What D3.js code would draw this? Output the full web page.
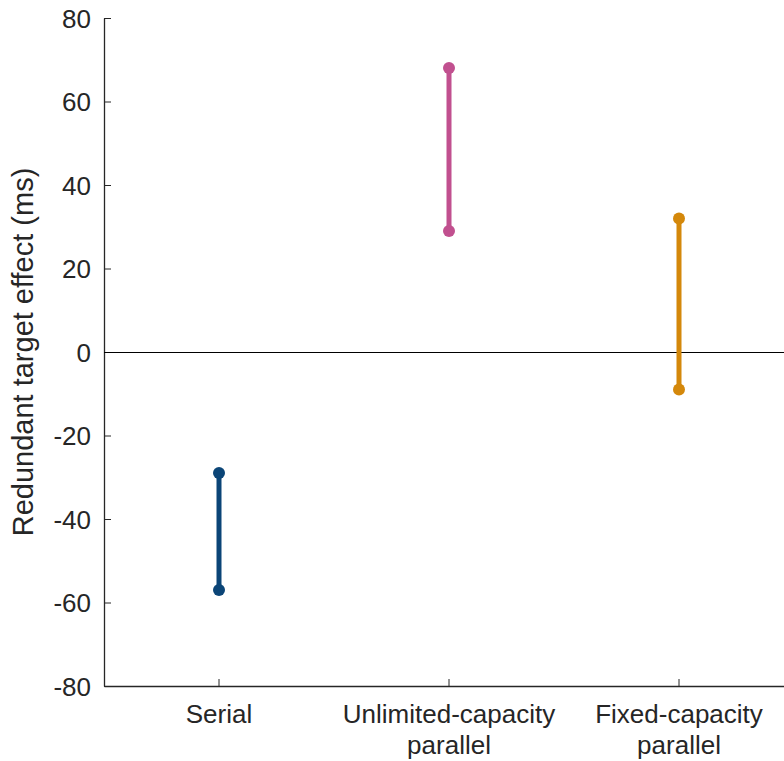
<!DOCTYPE html>
<html>
<head>
<meta charset="utf-8">
<script src="https://cdn.jsdelivr.net/npm/d3@7"></script>
<style>
  body { margin: 0; background: #fff; }
  svg { display: block; font-family: "Liberation Sans", Arial, Helvetica, sans-serif; }
  .axis path, .axis line { stroke: #262626; }
  .axis text { fill: #262626; font-size: 26px; }
</style>
</head>
<body>
<svg id="chart" width="784" height="761"></svg>
<script>
// data
const models = ["Serial", "Unlimited-capacity parallel", "Fixed-capacity parallel"];
const labelLines = [["Serial"], ["Unlimited-capacity", "parallel"], ["Fixed-capacity", "parallel"]];
const lowValues = [-57, 29, -9];
const highValues = [-29, 68, 32];
const colors = ["#0b4577", "#c1508f", "#d4880b"];
const yTicks = [-80, -60, -40, -20, 0, 20, 40, 60, 80];

const svg = d3.select("#chart");
const mLeft = 104, mTop = 18, mBottom = 686, mRight = 794;

const x = d3.scaleBand().domain(models).range([mLeft, mRight]);
const y = d3.scaleLinear().domain([-80, 80]).range([mBottom, mTop]);

// y axis
const yAxis = svg.append("g").attr("class", "axis")
  .attr("transform", `translate(${mLeft},0)`)
  .call(d3.axisLeft(y).tickValues(yTicks).tickFormat(d => String(d))
    .tickSizeInner(-7).tickSizeOuter(0).tickPadding(13));
yAxis.select(".domain").attr("stroke-width", 1.3);
yAxis.selectAll("text").attr("dy", "0.36em");

// x axis
const xAxis = svg.append("g").attr("class", "axis")
  .attr("transform", `translate(0,${mBottom})`)
  .call(d3.axisBottom(x).tickSizeInner(-7).tickSizeOuter(0).tickFormat(""));
xAxis.select(".domain").attr("stroke-width", 1.3);

xAxis.selectAll(".tick").each(function(d, i) {
  const t = d3.select(this).append("text")
    .attr("fill", "#262626").attr("text-anchor", "middle")
    .style("font-size", "26px");
  labelLines[i].forEach((ln, j) => {
    t.append("tspan").attr("x", 0).attr("y", 37 + j * 31).text(ln);
  });
});

// zero line
svg.append("line")
  .attr("x1", mLeft).attr("x2", 784)
  .attr("y1", y(0) + 0.5).attr("y2", y(0) + 0.5)
  .attr("stroke", "#000").attr("stroke-width", 1.2);

// y label
svg.append("text")
  .attr("transform", `translate(33,${(mTop + mBottom) / 2}) rotate(-90)`)
  .attr("text-anchor", "middle")
  .attr("fill", "#262626")
  .style("font-size", "29px")
  .text("Redundant target effect (ms)");

// ranges
const cx = d => x(d) + x.bandwidth() / 2;
const g = svg.append("g");
g.selectAll("line.range").data(models).join("line")
  .attr("class", "range")
  .attr("x1", cx).attr("x2", cx)
  .attr("y1", (d, i) => y(lowValues[i]))
  .attr("y2", (d, i) => y(highValues[i]))
  .attr("stroke", (d, i) => colors[i])
  .attr("stroke-width", 5);

const pts = models.flatMap((m, i) => [
  {m, v: lowValues[i], c: colors[i]},
  {m, v: highValues[i], c: colors[i]}
]);
g.selectAll("circle").data(pts).join("circle")
  .attr("cx", d => cx(d.m))
  .attr("cy", d => y(d.v))
  .attr("r", 6)
  .attr("fill", d => d.c);
</script>
</body>
</html>
